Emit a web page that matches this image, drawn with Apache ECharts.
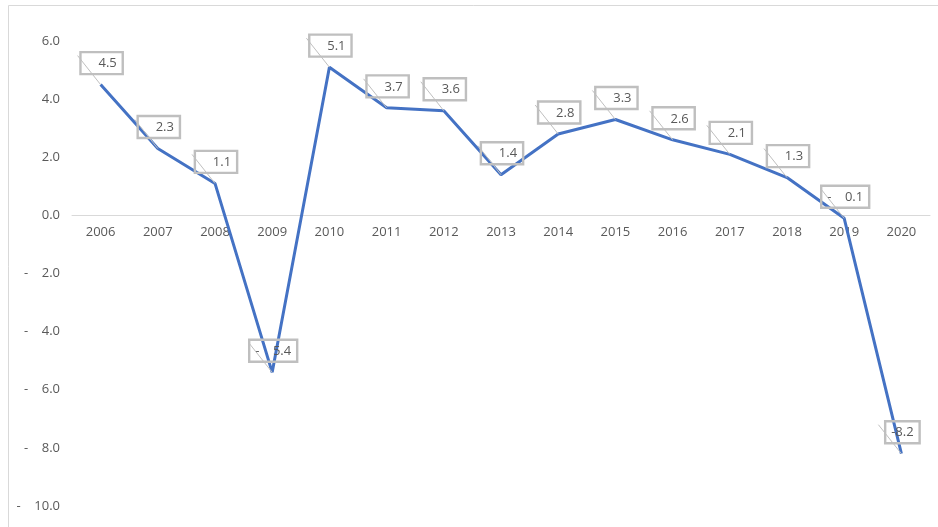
<!DOCTYPE html>
<html>
<head>
<meta charset="utf-8">
<script src="https://cdn.jsdelivr.net/npm/echarts@6/dist/echarts.min.js"></script>
<style>html,body{margin:0;padding:0;background:#fff;}#c{width:938px;height:527px;}</style>
</head>
<body>
<div id="c"></div>
<script>
var years = ['2006','2007','2008','2009','2010','2011','2012','2013','2014','2015','2016','2017','2018','2019','2020'];
var values = [4.5, 2.3, 1.1, -5.4, 5.1, 3.7, 3.6, 1.4, 2.8, 3.3, 2.6, 2.1, 1.3, -0.1, -8.2];
var labelTexts = ['4.5','2.3','1.1','-    5.4','5.1','3.7','3.6','1.4','2.8','3.3','2.6','2.1','1.3','-    0.1','-8.2'];

var FONT = '"Open Sans", "Liberation Sans", sans-serif';
var chart = echarts.init(document.getElementById('c'), null, {renderer: 'canvas'});

function yLabel(v) {
  if (v < 0) return '-    ' + Math.abs(v).toFixed(1);
  return v.toFixed(1);
}

chart.setOption({
  animation: false,
  backgroundColor: '#ffffff',
  grid: {left: 72, right: 8, top: 41, bottom: 21, containLabel: false, outerBoundsMode: 'none'},
  xAxis: {
    type: 'category',
    data: years,
    boundaryGap: true,
    axisLine: {onZero: true, lineStyle: {color: '#d9d9d9', width: 1}},
    axisTick: {show: false},
    axisLabel: {show: false},
    splitLine: {show: false}
  },
  yAxis: {
    type: 'value',
    min: -10, max: 6, interval: 2,
    axisLine: {show: false},
    axisTick: {show: false},
    splitLine: {show: false},
    axisLabel: {color: '#595959', fontFamily: FONT, fontSize: 13, margin: 12, formatter: yLabel}
  },
  graphic: [{
    type: 'rect',
    shape: {x: 8.5, y: 5.5, width: 960, height: 540},
    style: {fill: 'none', stroke: '#d9d9d9', lineWidth: 1},
    silent: true
  }],
  series: [{
    type: 'custom',
    z: 1,
    silent: true,
    data: years.map(function (y, i) { return [i, 0]; }),
    renderItem: function (params, api) {
      var p = api.coord([api.value(0), 0]);
      return {
        type: 'text',
        x: p[0],
        y: p[1] + 10,
        style: {
          text: years[params.dataIndex],
          fill: '#595959',
          font: '13px ' + FONT,
          align: 'center',
          verticalAlign: 'top'
        }
      };
    }
  }, {
    type: 'line',
    data: values,
    showSymbol: false,
    symbol: 'none',
    lineStyle: {color: '#4472C4', width: 3},
    z: 2
  }, {
    type: 'custom',
    z: 3,
    data: values.map(function (v, i) { return [i, v]; }),
    renderItem: function (params, api) {
      var p = api.coord([api.value(0), api.value(1)]);
      var idx = params.dataIndex;
      var txt = labelTexts[idx];
      var pos = api.value(1) >= 0;
      var pad = pos ? [4, 6, 3, 18] : [4, 6, 3, 6];
      return {
        type: 'group',
        children: [{
          type: 'text',
          x: p[0] + 1,
          y: p[1] - 10.5,
          style: {
            text: txt,
            fill: '#595959',
            font: '13px ' + FONT,
            lineHeight: 15,
            align: 'center',
            verticalAlign: 'bottom',
            padding: pad,
            borderColor: '#bfbfbf',
            borderWidth: 1.2,
            backgroundColor: 'rgba(255,255,255,0)'
          }
        }, {
          type: 'line',
          shape: {x1: p[0], y1: p[1], x2: p[0] - 23, y2: p[1] - 29},
          style: {stroke: '#bfbfbf', lineWidth: 1}
        }]
      };
    }
  }]
});
</script>
</body>
</html>
